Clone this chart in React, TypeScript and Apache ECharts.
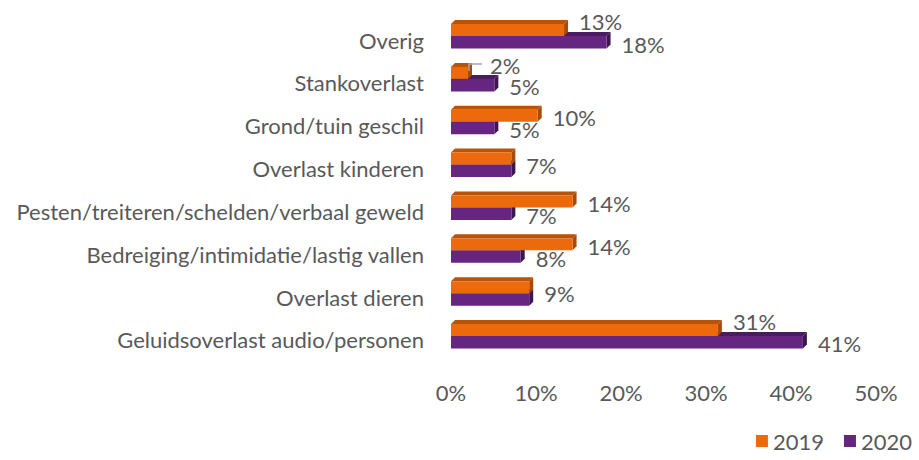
import React, { useEffect, useRef } from "react";
import * as echarts from "echarts";

const categories = [
  "Overig",
  "Stankoverlast",
  "Grond/tuin geschil",
  "Overlast kinderen",
  "Pesten/treiteren/schelden/verbaal geweld",
  "Bedreiging/intimidatie/lastig vallen",
  "Overlast dieren",
  "Geluidsoverlast audio/personen",
];
const values2019 = [13.3, 2.0, 10.2, 7.1, 14.3, 14.3, 9.2, 31.4];
const values2020 = [18.3, 5.1, 5.1, 7.1, 7.1, 8.2, 9.2, 41.4];
const seriesNames = ["2019", "2020"];
const xTicks = [0, 10, 20, 30, 40, 50];

const FONT = "Lato, 'Liberation Sans', sans-serif";
const TEXT = "#595959";
const FS = 22;
const DEPTH = 4;

const palettes = [
  { front: "#EC6A0B", top: "#B9530A", side: "#A84A08" },
  { front: "#662580", top: "#4A1B5E", side: "#3D164F" },
];

function makeRender(seriesIdx: number) {
  return (params: any, api: any) => {
    const i = params.dataIndex;
    const v = api.value(0);
    const cat = api.value(1);
    const [x1, yc] = api.coord([v, cat]);
    const [x0] = api.coord([0, cat]);
    const pal = palettes[seriesIdx];
    const top = seriesIdx === 0 ? yc - 16 : yc - 4;
    const bottom = seriesIdx === 0 ? yc - 4 : yc + 8.5;
    const d = DEPTH;
    const children: any[] = [
      {
        type: "polygon",
        shape: { points: [[x0, top], [x1, top], [x1 + d, top - d], [x0 + d, top - d]] },
        style: { fill: pal.top },
      },
      {
        type: "polygon",
        shape: { points: [[x1, top], [x1 + d, top - d], [x1 + d, bottom - d], [x1, bottom]] },
        style: { fill: pal.side },
      },
      {
        type: "rect",
        shape: { x: x0, y: top, width: x1 - x0, height: bottom - top },
        style: { fill: pal.front },
      },
    ];
    const o = values2019[i];
    const p = values2020[i];
    const same = Math.round(o) === Math.round(p);
    let showLabel = true;
    let ly = yc;
    let lx = x1 + d + 11;
    if (seriesIdx === 0) {
      if (same) ly = yc - 3.5;
      else if (p > o) ly = yc - 18.5;
      else ly = yc - 8;
      if (v < 3) {
        lx = x1 + 22;
        ly = top - 1;
        children.push({
          type: "polyline",
          shape: { points: [[x1 + 1, top + 4], [x1 + 1, top - 3], [x1 + 14, top - 3]] },
          style: { stroke: "#A6A6A6", lineWidth: 1.5, fill: "none" },
        });
      }
    } else {
      if (same) showLabel = false;
      ly = yc + 4;
    }
    if (showLabel) {
      children.push({
        type: "text",
        style: {
          text: Math.round(v) + "%",
          x: lx,
          y: ly,
          align: "left",
          verticalAlign: "middle",
          fill: TEXT,
          fontSize: FS,
          fontFamily: FONT,
        },
      });
    }
    return { type: "group", children };
  };
}

export default function App() {
  const ref = useRef<HTMLDivElement>(null);
  useEffect(() => {
    if (!ref.current) return;
    const chart = echarts.init(ref.current, undefined, { renderer: "svg" });
    chart.setOption({
      animation: false,
      backgroundColor: "#ffffff",
      textStyle: { fontFamily: FONT },
      grid: { left: 451, right: 43, top: 18.6, bottom: 98.6, containLabel: false },
      legend: {
        data: seriesNames,
        right: 2,
        bottom: 3,
        icon: "rect",
        itemWidth: 12,
        itemHeight: 12,
        itemGap: 20,
        textStyle: { color: TEXT, fontSize: FS, fontFamily: FONT },
      },
      xAxis: {
        type: "value",
        min: xTicks[0],
        max: xTicks[xTicks.length - 1],
        interval: 10,
        axisLine: { show: false },
        axisTick: { show: false },
        splitLine: { show: false },
        axisLabel: {
          formatter: "{value}%",
          color: TEXT,
          fontSize: FS,
          fontFamily: FONT,
          margin: 20,
        },
      },
      yAxis: {
        type: "category",
        data: categories,
        inverse: true,
        axisLine: { show: false },
        axisTick: { show: false },
        axisLabel: { color: TEXT, fontSize: FS, fontFamily: FONT, margin: 27 },
      },
      series: [
        {
          name: seriesNames[0],
          type: "custom",
          z: 3,
          clip: false,
          itemStyle: { color: palettes[0].front },
          encode: { x: 0, y: 1 },
          data: values2019.map((v, i) => [v, i]),
          renderItem: makeRender(0),
        },
        {
          name: seriesNames[1],
          type: "custom",
          z: 2,
          clip: false,
          itemStyle: { color: palettes[1].front },
          encode: { x: 0, y: 1 },
          data: values2020.map((v, i) => [v, i]),
          renderItem: makeRender(1),
        },
      ],
    });
    return () => chart.dispose();
  }, []);
  return <div ref={ref} style={{ width: 919, height: 460, position: "absolute", left: 0, top: 0 }} />;
}
